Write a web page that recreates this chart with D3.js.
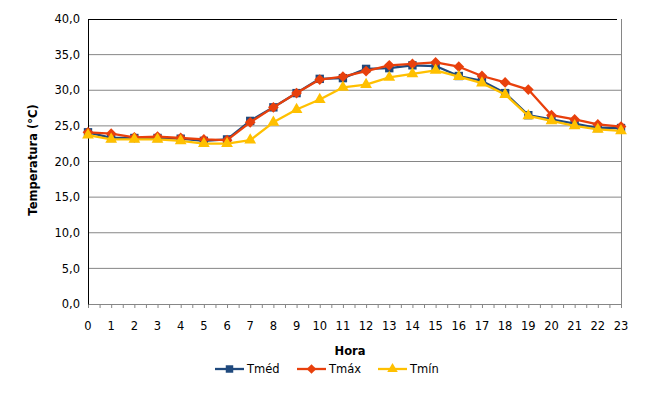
<!DOCTYPE html>
<html lang="pt">
<head>
<meta charset="utf-8">
<title>Temperatura por hora</title>
<script src="https://d3js.org/d3.v7.min.js"></script>
<style>
    body { margin: 0; background: #fff; }
    svg text { font-family: "DejaVu Sans", Verdana, sans-serif; fill: #000; }
</style>
</head>
<body>
<svg id="chart"></svg>
<script>
    // hours and temperatures
    const hours = d3.range(0, 24);
    const tMed = [24.1, 23.3, 23.3, 23.3, 23.2, 22.9, 23.1, 25.7, 27.6, 29.6, 31.6, 31.7, 33.0, 33.1, 33.5, 33.4,
                  32.0, 31.3, 29.6, 26.5, 25.9, 25.3, 24.7, 24.7];
    const tMax = [24.1, 23.9, 23.4, 23.5, 23.3, 23.1, 23.0, 25.5, 27.6, 29.6, 31.5, 31.9, 32.7, 33.5, 33.7, 33.9,
                  33.3, 32.0, 31.1, 30.1, 26.5, 25.9, 25.2, 24.9];
    const tMin = [23.7, 23.1, 23.1, 23.1, 22.9, 22.5, 22.5, 23.0, 25.5, 27.3, 28.7, 30.4, 30.8, 31.8, 32.3, 32.8,
                  31.9, 31.0, 29.4, 26.4, 25.7, 25.0, 24.5, 24.3];
    const yTicks = d3.range(0, 41, 5);

    // rotate: diamond is a square turned 45 degrees, like Excel's marker
    const series = [
        {name: "Tméd", values: tMed, color: "#1F497D", symbol: d3.symbolSquare, size: 70, rotate: 0},
        {name: "Tmáx", values: tMax, color: "#E8400C", symbol: d3.symbolSquare, size: 58, rotate: 45},
        {name: "Tmín", values: tMin, color: "#FFC000", symbol: d3.symbolTriangle, size: 60, rotate: 0}
    ];

    let width = 671, height = 401,
        margin = {top: 19, right: 50, bottom: 97, left: 88},
        chartWidth = width - margin.left - margin.right,
        chartHeight = height - margin.top - margin.bottom;

    let svg = d3.select("#chart")
        .attr("width", width)
        .attr("height", height);

    let x = d3.scaleLinear().domain([0, 23]).range([0, chartWidth]);
    let y = d3.scaleLinear().domain([0, 40]).range([chartHeight, 0]);

    let chartArea = svg.append("g")
        .attr("transform", `translate(${margin.left},${margin.top})`);

    // gridlines
    chartArea.append("g")
        .selectAll("line")
        .data(yTicks.filter(d => d > 0 && d < 40))
        .join("line")
        .attr("x1", 0).attr("x2", chartWidth)
        .attr("y1", d => y(d)).attr("y2", d => y(d))
        .attr("stroke", "#868686").attr("stroke-width", 1);

    // top and right border
    chartArea.append("line")
        .attr("x1", 0).attr("x2", chartWidth - 4)
        .attr("y1", 0.5).attr("y2", 0.5)
        .attr("stroke", "#000");
    chartArea.append("line")
        .attr("x1", chartWidth + 0.5).attr("x2", chartWidth + 0.5)
        .attr("y1", 0).attr("y2", chartHeight)
        .attr("stroke", "#868686");

    // x axis with half-hour tick marks
    let xAxis = chartArea.append("g")
        .attr("transform", `translate(0,${chartHeight})`)
        .call(d3.axisBottom(x).tickValues(d3.range(0, 23.01, 0.5)).tickSize(4).tickFormat(""));
    xAxis.select(".domain").attr("stroke", "#868686");
    xAxis.selectAll(".tick line").attr("stroke", "#868686");

    chartArea.append("g")
        .selectAll("text")
        .data(hours)
        .join("text")
        .attr("x", d => x(d))
        .attr("y", chartHeight + 26)
        .attr("text-anchor", "middle")
        .attr("font-size", 11.5)
        .text(d => d);

    // y axis
    let yAxis = chartArea.append("g")
        .call(d3.axisLeft(y).tickValues(yTicks).tickSize(0).tickPadding(8)
            .tickFormat(d => d3.format(".1f")(d).replace(".", ",")));
    yAxis.select(".domain").attr("stroke", "#000");
    yAxis.selectAll("text").attr("font-size", 11.5)
        .style("font-family", '"DejaVu Sans", Verdana, sans-serif');

    // series
    let line = d3.line().x((d, i) => x(hours[i])).y(d => y(d));
    series.forEach(s => {
        chartArea.append("path")
            .datum(s.values)
            .attr("fill", "none")
            .attr("stroke", s.color)
            .attr("stroke-width", 2.3)
            .attr("stroke-linejoin", "round")
            .attr("d", line);
        chartArea.append("g")
            .selectAll("path")
            .data(s.values)
            .join("path")
            .attr("transform", (d, i) => `translate(${x(hours[i])},${y(d)}) rotate(${s.rotate})`)
            .attr("d", d3.symbol().type(s.symbol).size(s.size))
            .attr("fill", s.color);
    });

    // axis titles
    svg.append("text")
        .attr("x", 350).attr("y", 355)
        .attr("text-anchor", "middle")
        .attr("font-size", 11.5).attr("font-weight", "bold")
        .text("Hora");
    svg.append("text")
        .attr("transform", "translate(37,160) rotate(-90)")
        .attr("text-anchor", "middle")
        .attr("font-size", 11.5).attr("font-weight", "bold")
        .text("Temperatura (°C)");

    // legend
    let legendX = [215, 297, 378];
    let legend = svg.append("g");
    series.forEach((s, i) => {
        let g = legend.append("g").attr("transform", `translate(${legendX[i]},369)`);
        g.append("line").attr("x1", 0).attr("x2", 29)
            .attr("stroke", s.color).attr("stroke-width", 2.3);
        g.append("path")
            .attr("transform", `translate(14.5,0) rotate(${s.rotate})`)
            .attr("d", d3.symbol().type(s.symbol).size(s.size * 0.8))
            .attr("fill", s.color);
        g.append("text").attr("x", 32).attr("y", 4)
            .attr("font-size", 11.5)
            .text(s.name);
    });
</script>
</body>
</html>
